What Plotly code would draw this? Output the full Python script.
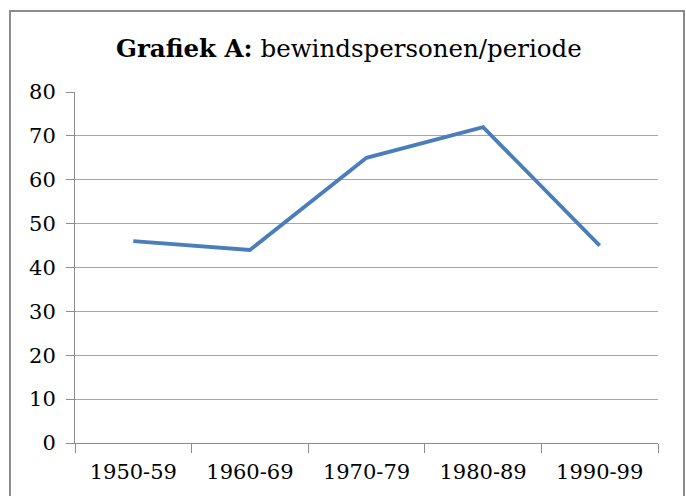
import plotly.graph_objects as go

categories = ["1950-59", "1960-69", "1970-79", "1980-89", "1990-99"]
values = [46, 44, 65, 72, 45]
y_ticks = [0, 10, 20, 30, 40, 50, 60, 70, 80]

W, H = 686, 496
L, R, T, B = 75, 28, 92, 53
pw, ph = W - L - R, H - T - B

def px(x):
    return (x - L) / pw

def py(y):
    return (H - B - y) / ph

fig = go.Figure()
fig.add_trace(go.Scatter(
    x=categories, y=values, mode="lines",
    line=dict(color="#4a7ebb", width=3.8),
    showlegend=False, hoverinfo="skip",
))

font_family = "DejaVu Serif, Liberation Serif, serif"

fig.update_layout(
    width=W, height=H,
    margin=dict(l=L, r=R, t=T, b=B),
    paper_bgcolor="white", plot_bgcolor="white",
    font=dict(family=font_family, color="black", size=21),
    xaxis=dict(
        type="category", tickson="boundaries", ticks="outside", ticklen=9,
        tickcolor="#8c8c8c", tickwidth=1, showgrid=False,
        showline=True, linecolor="#8c8c8c", linewidth=1,
        tickfont=dict(size=21), range=[-0.5, 4.5], ticklabelstandoff=10,
    ),
    yaxis=dict(
        range=[0, 80], tickvals=y_ticks, ticks="outside", ticklen=8,
        tickcolor="#8c8c8c", showgrid=True, gridcolor="#a6a6a6", gridwidth=1,
        showline=True, linecolor="#8c8c8c", linewidth=1, zeroline=False,
        tickfont=dict(size=21), ticklabelstandoff=6,
    ),
    annotations=[dict(
        text="<b>Grafiek A:</b> bewindspersonen/periode",
        xref="paper", yref="paper", x=px(349), y=py(48),
        xanchor="center", yanchor="middle", showarrow=False,
        font=dict(size=24.5, family=font_family),
    )],
    shapes=[dict(
        type="rect", xref="paper", yref="paper",
        x0=px(10), x1=px(684), y0=py(520), y1=py(11),
        line=dict(color="#8c8c8c", width=2), fillcolor="rgba(0,0,0,0)", layer="below",
    )],
)

fig.write_html(
    "out.html",
    config={"displayModeBar": False},
    post_script="document.body.style.margin='0';document.body.style.overflow='hidden';",
)
